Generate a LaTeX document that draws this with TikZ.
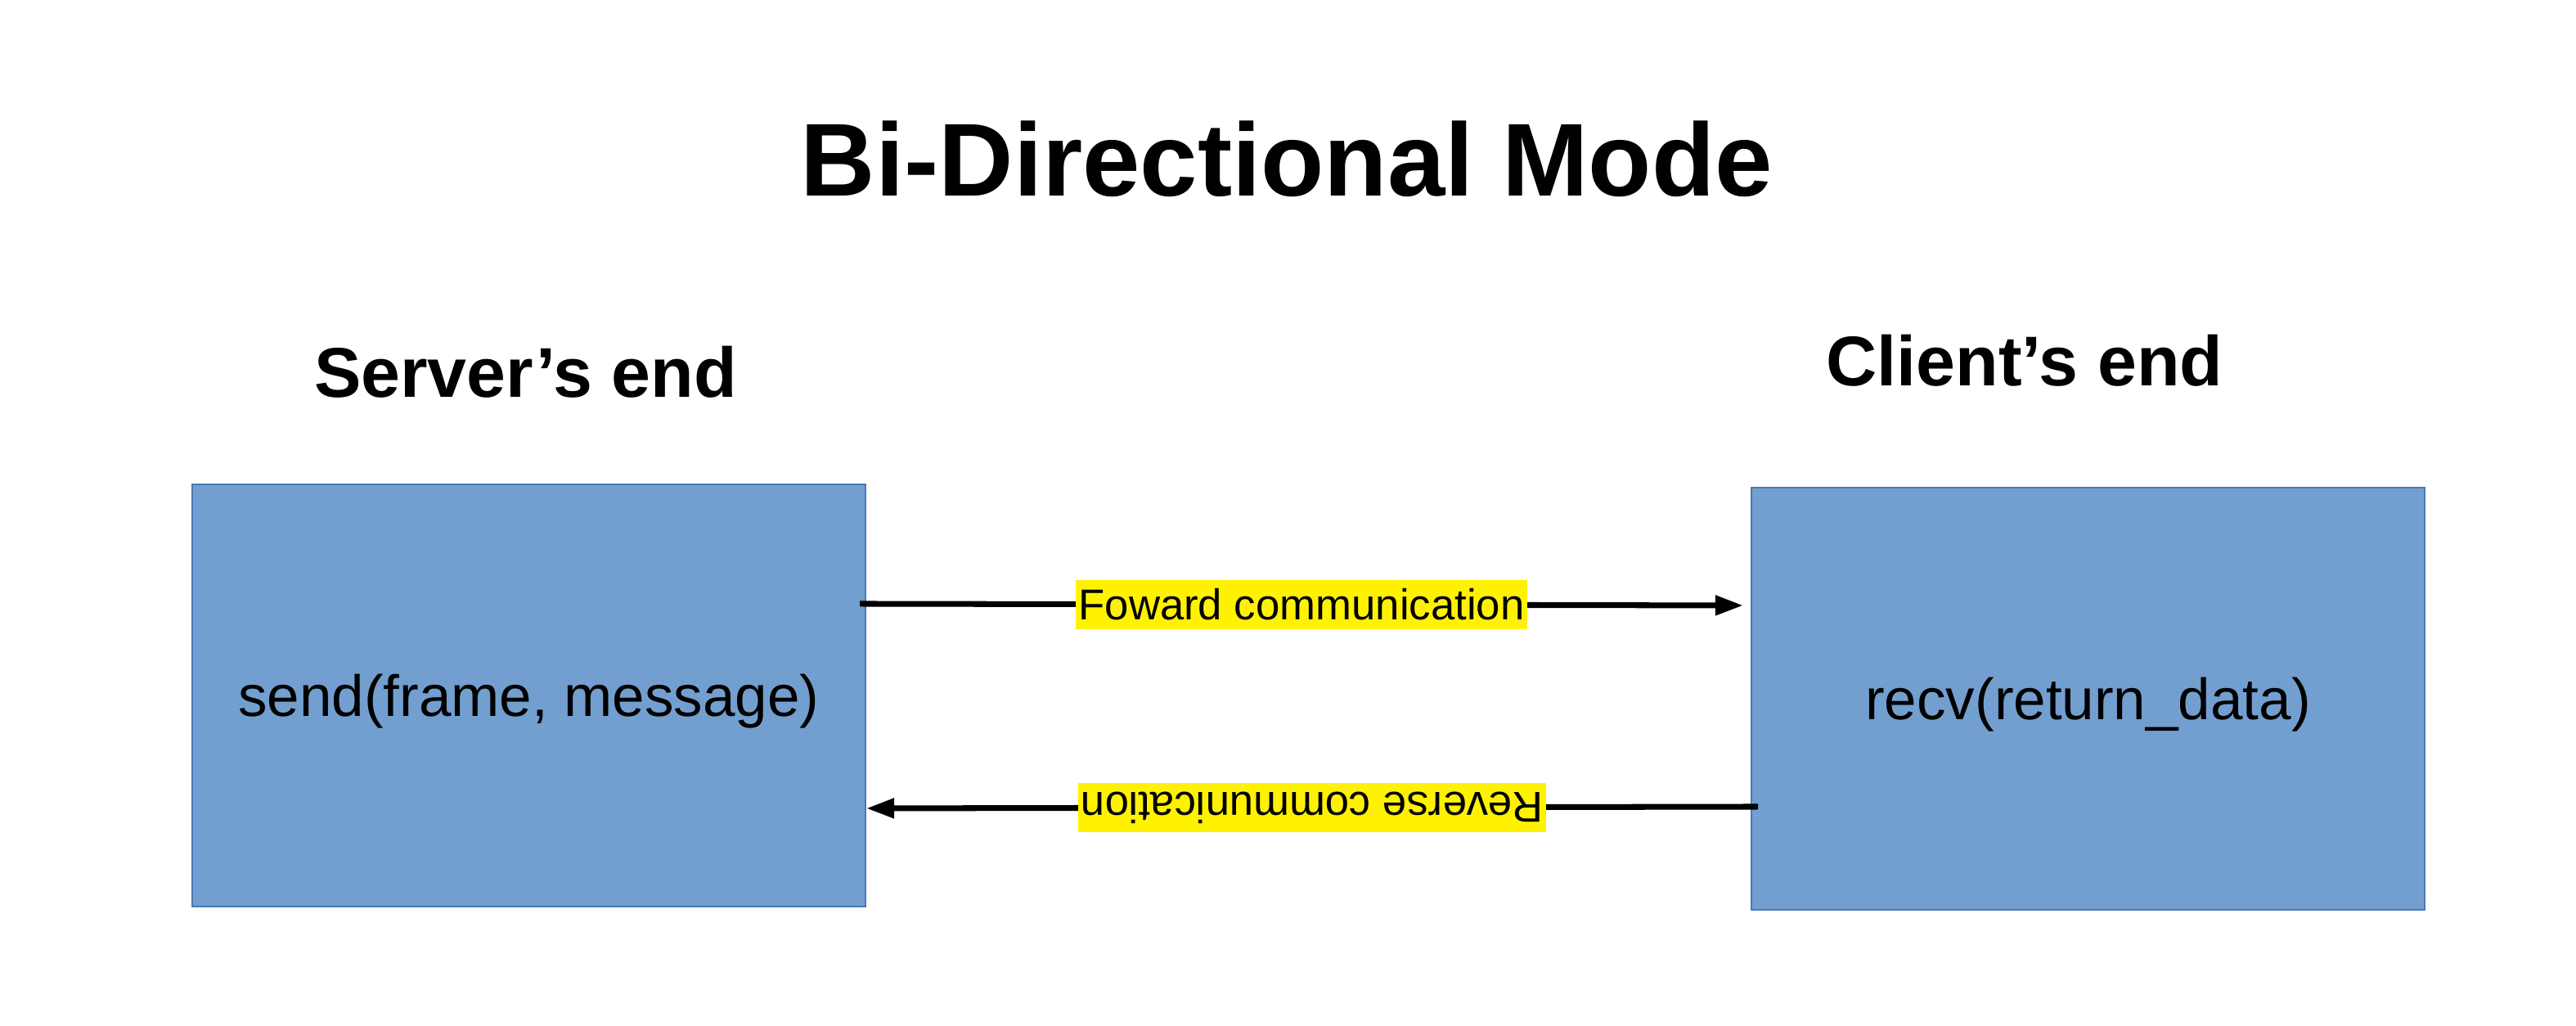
\documentclass[tikz,border=0pt]{standalone}
\usepackage{fontspec}
\setmainfont{Liberation Sans}
\usetikzlibrary{arrows.meta}
\definecolor{boxblue}{HTML}{729FCF}
\definecolor{boxedge}{HTML}{4A78B5}
\tikzset{
  endbox/.style={rectangle,draw=boxedge,line width=0.5pt,fill=boxblue,minimum width=8.23cm,minimum height=5.16cm,inner sep=0pt,font=\fontsize{20.2}{24}\selectfont,text height=14.8pt,text depth=0pt},
  flow/.style={line width=2pt,-{Triangle[length=9.7pt,width=6.6pt]}},
  flowlbl/.style={fill=yellow,inner xsep=1pt,inner ysep=3.4pt,text height=10.4pt,text depth=0pt,font=\fontsize{15}{18}\selectfont},
  endtitle/.style={anchor=base,font=\fontsize{24.5}{29}\selectfont\bfseries}
}
\begin{document}
\begin{tikzpicture}[node distance=19.06cm]
\fill[white] (0,0) rectangle (31.49,12.54);
\useasboundingbox (0,0) rectangle (31.49,12.54);
\node[anchor=base,font=\fontsize{36}{43}\selectfont\bfseries] (title) at (15.73,10.14) {Bi-Directional Mode};
\node[endbox] (srv) at (6.465,4.04) {send(frame, message)};
\node[endbox,right of=srv,yshift=-0.04cm] (cli) {recv(return\_data)};
\node[endtitle] (srvname) at (6.425,7.68) {Server’s end};
\node[endtitle] (cliname) at (24.75,7.82) {Client’s end};
%\node[below of=title] {};
\coordinate (fwdS) at (10.51,5.16);
\coordinate (fwdE) at (21.31,5.14);
\coordinate (revS) at (21.49,2.68);
\coordinate (revE) at (10.59,2.66);
\draw[flow] (fwdS) -- (fwdE) node[midway,flowlbl] (fwdlbl) {Foward communication};
\draw[flow] (revS) -- (revE) node[midway,flowlbl,rotate=180] (revlbl) {Reverse communication};
\end{tikzpicture}
\end{document}
